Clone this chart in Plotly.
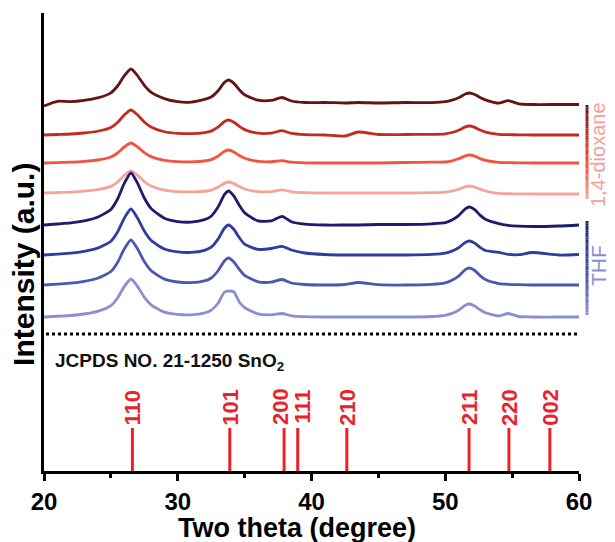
import plotly.graph_objects as go

# ---------------- data ----------------
two_theta = [20, 21, 22, 23, 24, 25, 25.5, 26, 26.5, 27, 27.5, 28, 29, 30, 31, 32, 32.5, 33, 33.5, 33.8,
             34.2, 34.6, 35, 36, 37, 37.8, 38.5, 39.5, 41, 42.5, 43.5, 45, 47, 49, 50, 50.5, 51, 51.5,
             51.8, 52.2, 52.6, 53, 54, 54.7, 55.5, 56.5, 58.5, 60]

diox_1 = [-3, 1.7, 1.4, 2.7, 5.1, 10.2, 17, 27.2, 34, 27.2, 17.7, 10.9, 4.4, 1.3, 0.9, 3.6, 6, 12, 20.7, 23,
          19.6, 13.3, 8.3, 2.8, 2.65, 5.5, 2, 0.5, 0.5, 0, 0.5, 0, 0.5, 0.4, 1.3, 2.8, 5.2, 9,
          10, 8.5, 5.5, 3.2, -0.2, 2.4, -0.8, -1.5, -1.5, -1.5]
diox_2 = [0, 0.5, 1, 2, 3.75, 7.5, 12.5, 20, 25, 20, 13, 8, 3.25, 1.65, 1.35, 2.35, 3.9, 7.8, 13.5, 15,
          12.75, 8.7, 5.4, 1.8, 1.95, 4.3, 1.6, 0.4, 0, -1, 3, 0.5, 0.5, 0.66, 1.2, 2.5, 4.7, 8.1,
          9, 7.65, 4.95, 2.9, 0.7, 0.36, 0.2, 0, 0, 0]
diox_3 = [0, 0.4, 0.8, 1.6, 3, 6, 10, 16, 20, 16, 10.4, 6.4, 2.6, 1.33, 1.1, 2, 3.4, 6.8, 11.7, 13,
          11, 7.5, 4.7, 1.6, 1.25, 2.3, 0.8, 0.2, 0, 0, 0, 0, 0.5, 0.8, 1, 2.2, 4.2, 7.2,
          8, 6.8, 4.4, 2.6, 0.6, 0.3, 0.2, 0, 0, 0]
diox_4 = [0, 0.44, 0.9, 1.8, 3.3, 6.6, 11, 17.6, 22, 17.6, 11.4, 7, 2.9, 1.4, 1.1, 1.75, 2.9, 5.7, 9.9, 11,
          9.35, 6.4, 4, 1.3, 1.45, 3.2, 1.2, 0.3, 0, 0, 0, 0, 0, 0.28, 0.9, 2, 3.6, 6.3,
          7, 6, 3.85, 2.2, -0.45, -0.7, -0.9, -1, -1, -1]
thf_1 = [0, 1, 2.1, 4.2, 7.8, 15.6, 26, 41.6, 52, 41.6, 27, 16.6, 6.8, 3.4, 2.9, 5.3, 8.8, 17.7, 30.6, 34,
         28.9, 19.7, 12.2, 4.1, 4.1, 8.7, 3.2, 0.8, 0, 0, 0, 0.5, 0.5, 1.2, 2.3, 5, 9.4, 16.2,
         18, 15.3, 9.9, 5.8, 1.4, -0.3, -1.1, -1.5, -1, 0]
thf_2 = [0, 0.9, 1.8, 3.7, 6.9, 13.8, 23, 36.8, 46, 36.8, 23.9, 14.7, 6, 3.1, 2.6, 4.7, 7.8, 15.6, 27, 30,
         25.5, 17.4, 10.8, 5.6, 6.5, 8.6, 5, 2, 0.5, 0, 0, 0, 0, 0.56, 1.8, 3.9, 7.3, 12.6,
         14, 11.9, 7.7, 4.5, 2.6, 0.56, 0.28, 2.5, 0, 0.5]
thf_3 = [0, 0.9, 1.8, 3.6, 6.75, 13.5, 22.5, 36, 45, 36, 23.4, 14.4, 5.85, 3, 2.4, 4.2, 7, 14, 24.3, 27,
         23, 15.7, 9.7, 3.2, 2.85, 5.5, 2, 0.5, 0, 0.5, 2.5, 0.3, 0, 0.7, 2.2, 4.8, 8.8, 15.3,
         17, 14.5, 9.35, 5.4, 1.4, 0.7, 0.3, 0, 0, 0]
thf_4 = [0, 0.76, 1.5, 3, 5.7, 11.4, 19, 30.4, 38, 30.4, 19.8, 12.2, 4.9, 2.6, 2.2, 4, 6.8, 13.5, 25, 26,
         25, 15, 9.4, 3.1, 2.2, 3.5, 1.2, 0.3, 0, 0, 0, 0, 0, 0.5, 1.7, 3.6, 6.8, 11.7,
         13, 11, 7.2, 4.2, 1, 3.5, 0.5, 0, 0, 0]

# JCPDS 21-1250 SnO2 reference peaks
ref_pos = [26.61, 33.89, 37.95, 38.97, 42.64, 51.78, 54.76, 57.82]
ref_hkl = ["110", "101", "200", "111", "210", "211", "220", "002"]

x_ticks = [20, 30, 40, 50, 60]

# ---------------- styling ----------------
series = [diox_1, diox_2, diox_3, diox_4, thf_1, thf_2, thf_3, thf_4]
colors = ["#651313", "#c42b20", "#ef5540", "#f5a39b", "#1b1d6c", "#2f3ca0", "#4b57b1", "#8a90cf"]
offsets = [368, 336, 308, 278, 246, 216, 186, 154]
label_shift = [0, 0, -4, 4, 0, 0, 0, 0]

FONT = "Liberation Sans, Arial, Helvetica, sans-serif"
RED = "#e8232b"

# the page body has an 8px margin; figure is sized/placed to compensate
BODY = 8
FIG_W = 615 - BODY
FIG_H = 542 - BODY
PLOT_BOTTOM = 471            # page y of x-axis
PLOT_TOP = 13

fig = go.Figure()

for vals, col, off in zip(series, colors, offsets):
    fig.add_trace(go.Scatter(
        x=two_theta, y=[off + v for v in vals], mode="lines",
        line=dict(color=col, width=2.8, shape="spline", smoothing=0.6),
        hoverinfo="skip", showlegend=False))

# reference sticks
stick_h = 43
sx, sy = [], []
for p in ref_pos:
    sx += [p, p, None]
    sy += [0, stick_h, None]
fig.add_trace(go.Scatter(x=sx, y=sy, mode="lines", line=dict(color=RED, width=3),
                         hoverinfo="skip", showlegend=False))

annotations = []
for p, lab, dx in zip(ref_pos, ref_hkl, label_shift):
    annotations.append(dict(x=p, y=64, xref="x", yref="y", text=lab, showarrow=False, xshift=dx,
                            textangle=-90, xanchor="center", yanchor="middle",
                            font=dict(family=FONT, size=22, color=RED, weight="bold")))

annotations.append(dict(x=20.67, y=109, xref="x", yref="y", xanchor="left", yanchor="middle",
                        text="JCPDS NO. 21-1250 SnO<sub>2</sub>", showarrow=False,
                        font=dict(family=FONT, size=19, color="#111111", weight="bold")))

# axis titles
annotations.append(dict(x=0, y=0.45, xref="paper", yref="paper", xshift=-20, text="Intensity (a.u.)",
                        textangle=-90, showarrow=False, xanchor="center", yanchor="middle",
                        font=dict(family=FONT, size=30, color="black", weight="bold")))
annotations.append(dict(x=38.95, y=0, xref="x", yref="paper", yshift=-57, text="Two theta (degree)",
                        showarrow=False, xanchor="center", yanchor="middle",
                        font=dict(family=FONT, size=27, color="black", weight="bold")))

# side labels (positions in page pixels)
x0px, x1px = 44, 579
def px2paper(px):
    return (px - x0px) / (x1px - x0px)

annotations.append(dict(x=px2paper(598), y=471 - 155, xref="paper", yref="y", text="1,4-dioxane",
                        textangle=-90, showarrow=False, xanchor="center", yanchor="middle",
                        font=dict(family=FONT, size=20, color="#f2a097")))
annotations.append(dict(x=px2paper(598), y=471 - 266, xref="paper", yref="y", text="THF",
                        textangle=-90, showarrow=False, xanchor="center", yanchor="middle",
                        font=dict(family=FONT, size=21, color="#8a90cf")))

def hex2rgb(h):
    h = h.lstrip("#")
    return tuple(int(h[i:i + 2], 16) for i in (0, 2, 4))

def grad(stops, t):
    n = len(stops) - 1
    k = min(int(t * n), n - 1)
    tt = t * n - k
    a, b = hex2rgb(stops[k]), hex2rgb(stops[k + 1])
    c = [round(a[i] + (b[i] - a[i]) * tt) for i in range(3)]
    return "rgb(%d,%d,%d)" % tuple(c)

shapes = []
def grad_bar(ytop_px, ybot_px, stops, nseg=40):
    for i in range(nseg):
        t0 = i / nseg
        t1 = (i + 1) / nseg
        ya = 471 - (ytop_px + (ybot_px - ytop_px) * t0)
        yb = 471 - (ytop_px + (ybot_px - ytop_px) * t1)
        shapes.append(dict(type="line", xref="paper", yref="y", x0=px2paper(587), x1=px2paper(587),
                           y0=ya, y1=yb, line=dict(color=grad(stops, (t0 + t1) / 2), width=3)))

grad_bar(105, 199, ["#651313", "#c42b20", "#ef5540", "#f5a39b"])
grad_bar(221, 315, ["#1b1d6c", "#2f3ca0", "#4b57b1", "#8a90cf"])

# dotted separator line
shapes.append(dict(type="line", xref="x", yref="y", x0=20.15, x1=60, y0=137, y1=137,
                   line=dict(color="black", width=3, dash="3px,3px")))

fig.update_layout(
    width=FIG_W, height=FIG_H,
    margin=dict(l=44 - BODY, r=36, t=PLOT_TOP - BODY, b=FIG_H + BODY - PLOT_BOTTOM),
    paper_bgcolor="white", plot_bgcolor="white",
    showlegend=False,
    annotations=annotations, shapes=shapes,
    xaxis=dict(range=[20, 60], tickvals=x_ticks, ticktext=[str(v) for v in x_ticks],
               showline=True, linecolor="black", linewidth=3, mirror=False,
               ticks="outside", ticklen=7, tickwidth=3, tickcolor="black",
               minor=dict(tickvals=[25, 35, 45, 55], ticks="outside", ticklen=4, tickwidth=3, tickcolor="black"),
               showgrid=False, zeroline=False,
               tickfont=dict(family=FONT, size=24, color="black", weight="bold")),
    yaxis=dict(range=[0, 458], showline=True, linecolor="black", linewidth=3,
               showticklabels=False, ticks="", showgrid=False, zeroline=False),
)

fig.write_html("out.html")
